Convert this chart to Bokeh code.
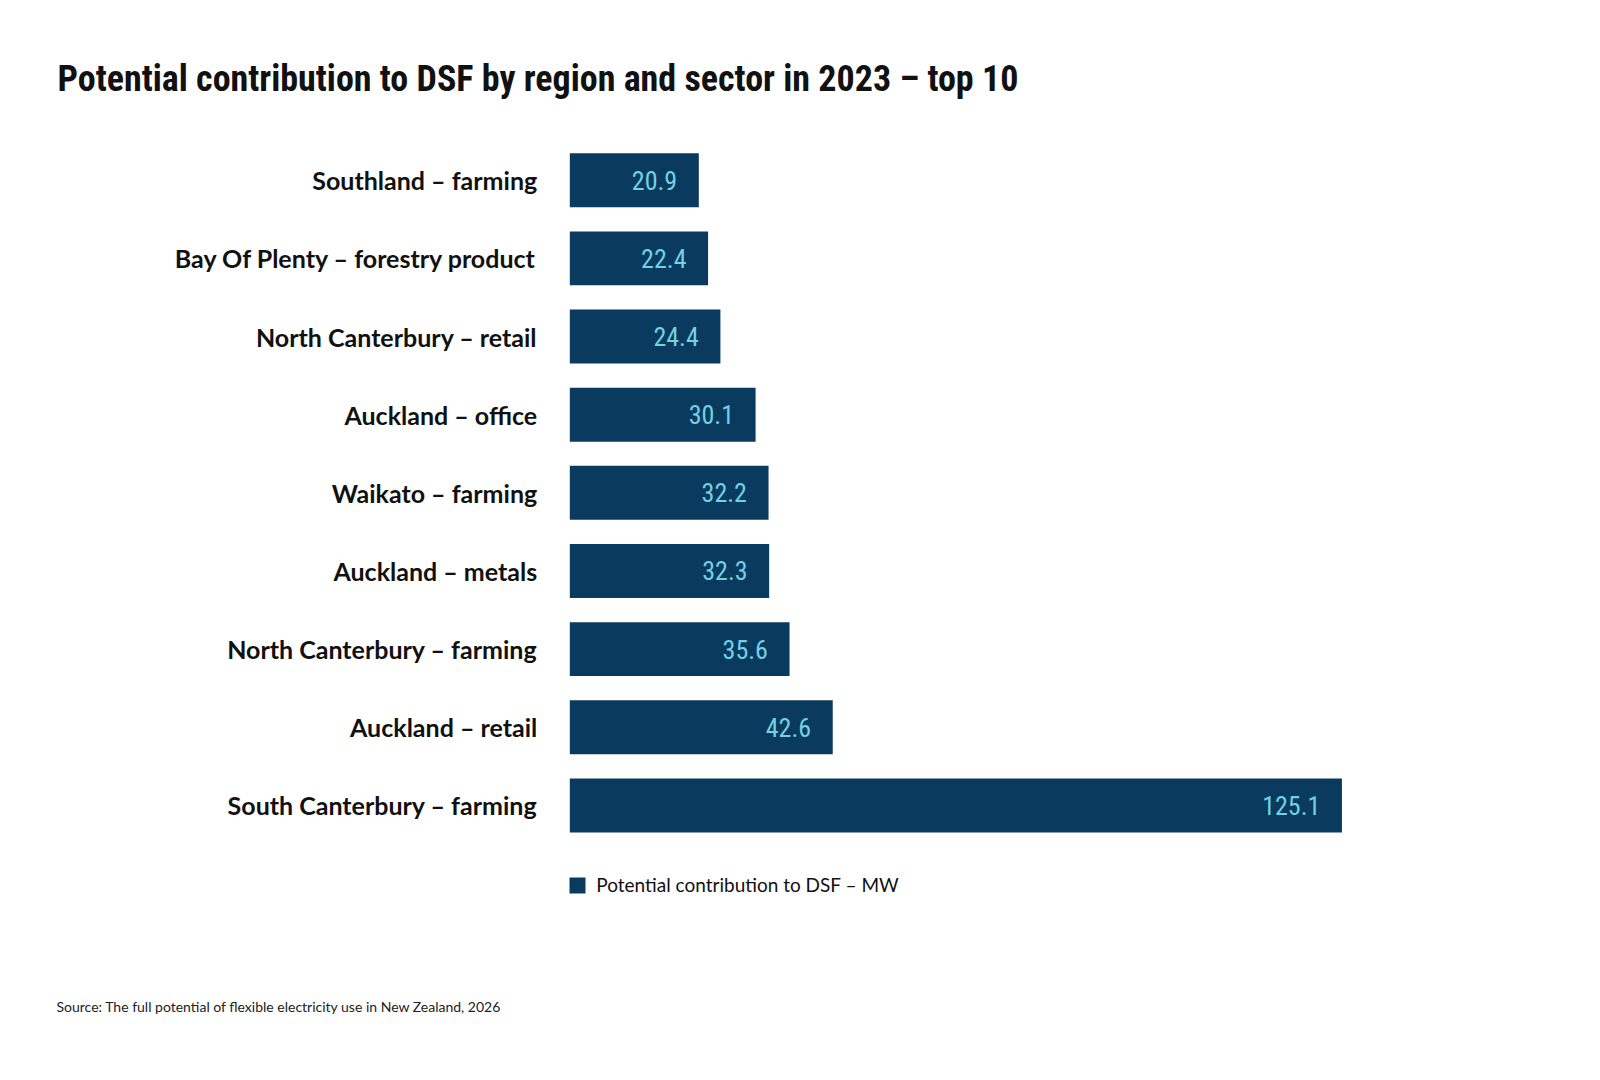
from bokeh.plotting import figure
from bokeh.models import Range1d, Label, Legend, LegendItem, ColumnDataSource
from bokeh.core.properties import value
from bokeh.embed import file_html
from bokeh.resources import INLINE

# ---- data ----
categories = [
    "Southland – farming",
    "Bay Of Plenty – forestry product",
    "North Canterbury – retail",
    "Auckland – office",
    "Waikato – farming",
    "Auckland – metals",
    "North Canterbury – farming",
    "Auckland – retail",
    "South Canterbury – farming",
]
values = [20.9, 22.4, 24.4, 30.1, 32.2, 32.3, 35.6, 42.6, 125.1]
value_labels = [f"{v:.1f}" for v in values]
series_name = "Potential contribution to DSF – MW"
title_text = "Potential contribution to DSF by region and sector in 2023 – top 10"
source_text = "Source: The full potential of flexible electricity use in New Zealand, 2026"

BAR = "#0b3a5f"
VAL = "#72d2e1"
INK = "#111111"
LABEL_FONT = "Lato"
COND_FONT = "Roboto Condensed, DejaVu Sans Condensed, sans-serif"

W, H = 1584, 1064
n = len(categories)
ypos = [n - 1 - i for i in range(n)]  # first category on top

src = ColumnDataSource(dict(cat=categories, val=values, lab=value_labels,
                            y=ypos, zero=[0] * n))

p = figure(
    width=W, height=H,
    x_range=Range1d(-92.24, 164.40),
    y_range=Range1d(-3.314, 10.299),
    output_backend="svg", toolbar_location=None,
    x_axis_location=None, y_axis_location=None,
    title=None,
    min_border=0, min_border_left=0, min_border_right=0,
    min_border_top=0, min_border_bottom=0,
)
p.outline_line_color = None
p.xgrid.visible = False
p.ygrid.visible = False
p.background_fill_color = "white"
p.border_fill_color = "white"

bars = p.hbar(y="y", right="val", left=0, height=0.69, source=src,
              fill_color=BAR, line_color=None)

# category labels
p.text(x="zero", y="y", text="cat", source=src, x_offset=-32.6,
       text_align="right", text_baseline="middle",
       text_font=value(LABEL_FONT), text_font_style="bold",
       text_font_size="25px", text_color=INK)

# value labels
p.text(x="val", y="y", text="lab", source=src, x_offset=-21.6,
       text_align="right", text_baseline="middle",
       text_font=value(COND_FONT), text_font_size="26px", text_color=VAL)

# title
p.add_layout(Label(x=57, y=H - 78, x_units="screen", y_units="screen",
                   text=title_text, text_baseline="alphabetic",
                   text_font=COND_FONT, text_font_style="bold",
                   text_font_size="36px", text_color=INK))
# source
p.add_layout(Label(x=56, y=H - 1006, x_units="screen", y_units="screen",
                   text=source_text, text_baseline="alphabetic",
                   text_font=LABEL_FONT, text_font_size="14px",
                   text_color="#222222"))

legend = Legend(items=[LegendItem(label=series_name, renderers=[bars])],
                location=(567.3, H - 896), orientation="horizontal",
                glyph_width=20, glyph_height=20, label_standoff=9,
                padding=0, margin=0, border_line_color=None,
                background_fill_alpha=0,
                label_text_font=LABEL_FONT, label_text_font_size="19px",
                label_text_color=INK)
p.add_layout(legend)

open("out.html", "w").write(file_html(p, INLINE))
